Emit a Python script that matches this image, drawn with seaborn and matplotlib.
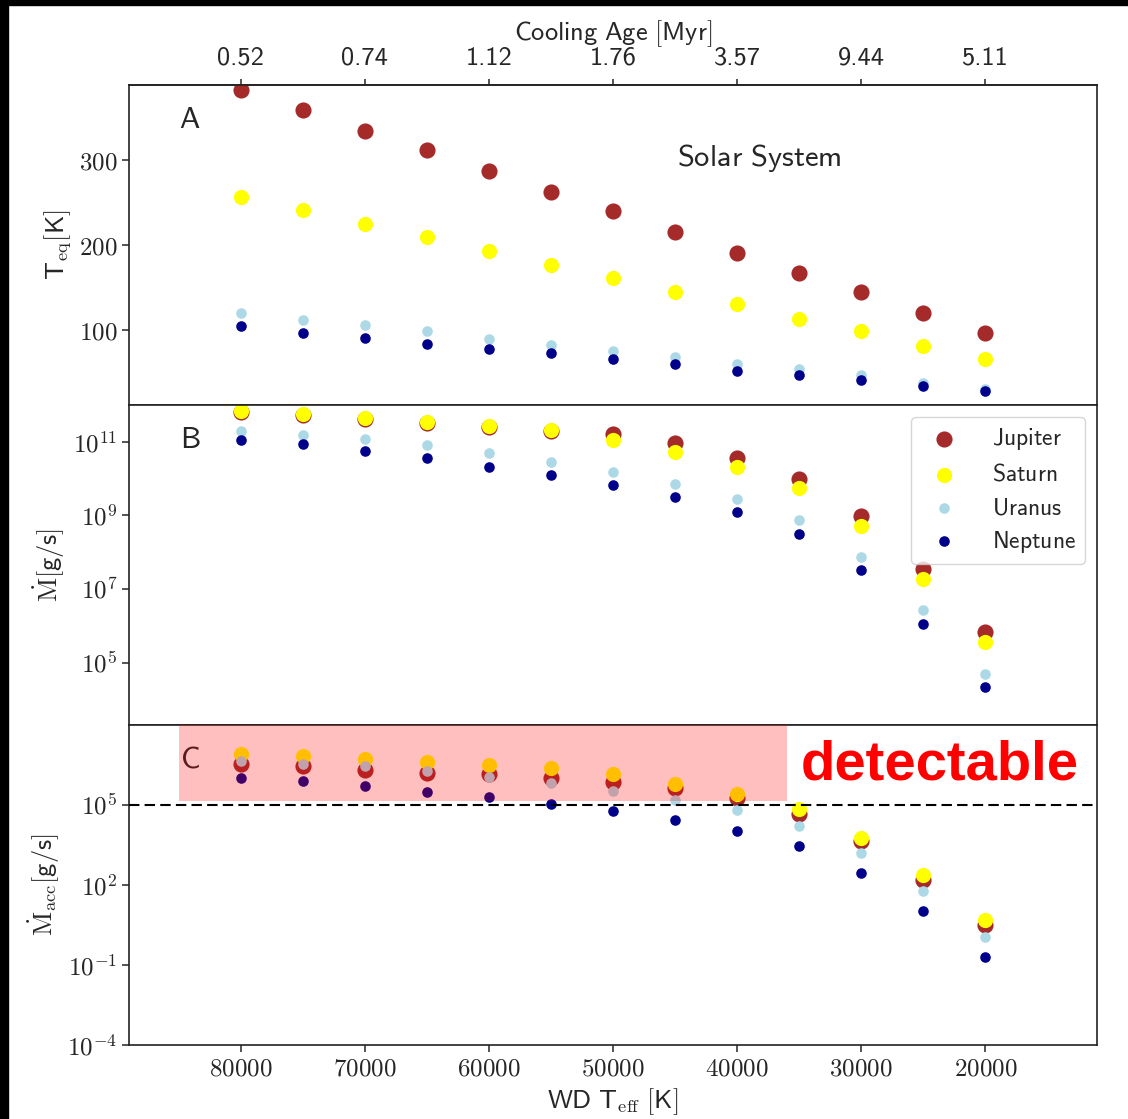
import numpy as np
import pandas as pd
import matplotlib
matplotlib.use("Agg")
import matplotlib.pyplot as plt
from matplotlib.ticker import FuncFormatter, NullLocator
from matplotlib.patches import Rectangle
import seaborn as sns

# WD effective temperature grid [K]
teff = [80000, 75000, 70000, 65000, 60000, 55000, 50000, 45000, 40000, 35000, 30000, 25000, 20000]
planets = ["Jupiter", "Saturn", "Uranus", "Neptune"]

# panel A: equilibrium temperature [K]
teq_jupiter = [383, 359, 335, 312, 287, 263, 240, 215, 191, 167, 144, 120, 96]
teq_saturn = [257, 241, 225, 209, 193, 177, 161, 145, 130, 113, 98, 81, 65]
teq_uranus = [120, 112, 105, 98, 89, 82, 75, 68, 60, 53, 46, 37, 30]
teq_neptune = [104, 96, 90, 83, 77, 72, 65, 59, 51, 46, 40, 33, 27]

# panel B: mass loss rate [g/s]
mdot_jupiter = [6.6e11, 5.4e11, 4.2e11, 3.2e11, 2.5e11, 2.0e11, 1.6e11, 9.5e10, 3.7e10, 1.0e10, 9.8e8, 3.5e7, 6.6e5]
mdot_saturn = [6.9e11, 5.6e11, 4.4e11, 3.5e11, 2.7e11, 2.1e11, 1.1e11, 5.4e10, 2.1e10, 5.5e9, 5.2e8, 1.9e7, 3.5e5]
mdot_uranus = [2.0e11, 1.55e11, 1.23e11, 8.1e10, 4.9e10, 2.9e10, 1.55e10, 7.1e9, 2.75e9, 7.4e8, 7.2e7, 2.6e6, 4.9e4]
mdot_neptune = [1.12e11, 8.9e10, 5.8e10, 3.6e10, 2.1e10, 1.26e10, 6.6e9, 3.1e9, 1.2e9, 3.2e8, 3.2e7, 1.12e6, 2.1e4]

# panel C: accretion rate onto the WD [g/s]
macc_jupiter = [3.5e6, 2.9e6, 2.1e6, 1.6e6, 1.4e6, 1.05e6, 7.4e5, 4.5e5, 1.8e5, 4.5e4, 4.3e3, 155, 3.1]
macc_saturn = [8.5e6, 7.2e6, 5.5e6, 4.2e6, 3.3e6, 2.5e6, 1.4e6, 6.3e5, 2.5e5, 6.9e4, 6.0e3, 234, 4.7]
macc_uranus = [4.4e6, 3.5e6, 2.9e6, 1.9e6, 1.1e6, 6.5e5, 3.3e5, 1.55e5, 6.3e4, 1.66e4, 1.6e3, 58, 1.1]
macc_neptune = [1.05e6, 8.3e5, 5.1e5, 3.2e5, 2.0e5, 1.12e5, 6.0e4, 2.8e4, 1.1e4, 3.0e3, 295, 11, 0.2]

# detection limit and detectable region
detect_limit = 1e5
detect_teff = [85000, 36000]

# axes ticks
teff_ticks = [80000, 70000, 60000, 50000, 40000, 30000, 20000]
cooling_age_labels = ["0.52", "0.74", "1.12", "1.76", "3.57", "9.44", "5.11"]
teq_ticks = [100, 200, 300]
mdot_ticks = [1e5, 1e7, 1e9, 1e11]
macc_ticks = [1e-4, 1e-1, 1e2, 1e5]

planet_colors = {"Jupiter": "brown", "Saturn": "yellow", "Uranus": "lightblue", "Neptune": "darkblue"}
planet_sizes = {"Jupiter": 135, "Saturn": 120, "Uranus": 58, "Neptune": 58}

df = pd.DataFrame({
    "teff": teff * 4,
    "planet": np.repeat(planets, len(teff)),
    "teq": teq_jupiter + teq_saturn + teq_uranus + teq_neptune,
    "mdot": mdot_jupiter + mdot_saturn + mdot_uranus + mdot_neptune,
    "macc": macc_jupiter + macc_saturn + macc_uranus + macc_neptune,
})

sns.set_style("ticks")
plt.rcParams["font.family"] = ["DejaVu Sans"]
plt.rcParams["mathtext.fontset"] = "cm"
plt.rcParams["axes.edgecolor"] = "#222222"
plt.rcParams["axes.linewidth"] = 1.2

fig, axes = plt.subplots(3, 1, figsize=(11.28, 11.19), dpi=100, sharex=True)
fig.subplots_adjust(left=0.1144, right=0.9725, top=0.924, bottom=0.0661, hspace=0)
ax1, ax2, ax3 = axes

for name in planets:
    sub = df[df["planet"] == name]
    for ax, col in zip(axes, ["teq", "mdot", "macc"]):
        sns.scatterplot(data=sub, x="teff", y=col, color=planet_colors[name],
                        s=planet_sizes[name], linewidth=0, ax=ax,
                        label=r"$\mathsf{%s}$" % name if col == "mdot" else None,
                        legend=False)

ax1.set_xlim(89000, 11000)
ax1.set_ylim(11, 389)
ax2.set_yscale("log")
ax2.set_ylim(10 ** 3.3, 1e12)
ax3.set_yscale("log")
ax3.set_ylim(1e-4, 1e8)

mathrm = FuncFormatter(lambda v, p: r"$\mathrm{%d}$" % v)
logfmt = FuncFormatter(lambda v, p: r"$\mathrm{10^{%d}}$" % round(np.log10(v)))

ax1.set_yticks(teq_ticks)
ax1.yaxis.set_major_formatter(mathrm)
for ax, ticks in [(ax2, mdot_ticks), (ax3, macc_ticks)]:
    ax.set_yticks(ticks)
    ax.yaxis.set_major_formatter(logfmt)
    ax.yaxis.set_minor_locator(NullLocator())

ax3.set_xticks(teff_ticks)
ax3.xaxis.set_major_formatter(mathrm)
for ax in axes:
    ax.tick_params(axis="both", labelsize=18, length=5, width=1.1, direction="out")
ax1.tick_params(axis="x", length=0)
ax2.tick_params(axis="x", length=0)

# cooling age on the top axis (computer modern sans)
sec = ax1.secondary_xaxis("top")
sec.set_xticks(teff_ticks, labels=cooling_age_labels)
sec.tick_params(labelsize=19, length=4, width=1.1, pad=7)
for lbl in sec.get_xticklabels():
    lbl.set_fontfamily("cmss10")
sec.set_xlabel(r"$\mathsf{Cooling\ Age\ [Myr]}$", fontsize=19, labelpad=5)

ax1.set_ylabel(r"$\mathsf{T}_{\mathrm{eq}}\mathsf{[K]}$", fontsize=19)
ax2.set_ylabel(r"$\dot{\mathrm{M}}\mathsf{[g/s]}$", fontsize=19)
ax3.set_ylabel(r"$\dot{\mathrm{M}}_{\mathrm{acc}}\mathsf{[g/s]}$", fontsize=19)
ax3.set_xlabel(r"$\mathsf{WD\ T}_{\mathrm{eff}}\mathsf{\ [K]}$", fontsize=19, labelpad=4)
ax1.set_xlabel("")
ax2.set_xlabel("")

for ax, letter in zip(axes, ["A", "B", "C"]):
    ax.text(0.063, 0.893, r"$\mathsf{%s}$" % letter, transform=ax.transAxes,
            fontsize=22, ha="center", va="center")
ax1.text(0.651, 0.771, r"$\mathsf{Solar\ System}$", transform=ax1.transAxes,
         fontsize=22, ha="center", va="center")

# detectable region in panel C
ax3.fill_between(detect_teff, detect_limit * 1.4, 1e8, color="red", alpha=0.25,
                 linewidth=0, zorder=5)
ax3.axhline(detect_limit, color="black", linestyle=(0, (5, 2.5)), linewidth=1.5, zorder=6)
ax3.text(0.694, 0.872, "detectable", transform=ax3.transAxes, color="red",
         fontsize=40.5, fontweight="bold", family="Liberation Sans",
         ha="left", va="center", zorder=7)

ax2.legend(loc="upper right", fontsize=17, handletextpad=1.0, labelspacing=0.4)

# black screenshot border
fig.add_artist(Rectangle((0, 1 - 5 / 1119), 1, 5 / 1119, transform=fig.transFigure,
                         color="black", zorder=10))
fig.add_artist(Rectangle((0, 0), 8 / 1128, 1, transform=fig.transFigure,
                         color="black", zorder=10))

fig.savefig("out.png", dpi=100)
